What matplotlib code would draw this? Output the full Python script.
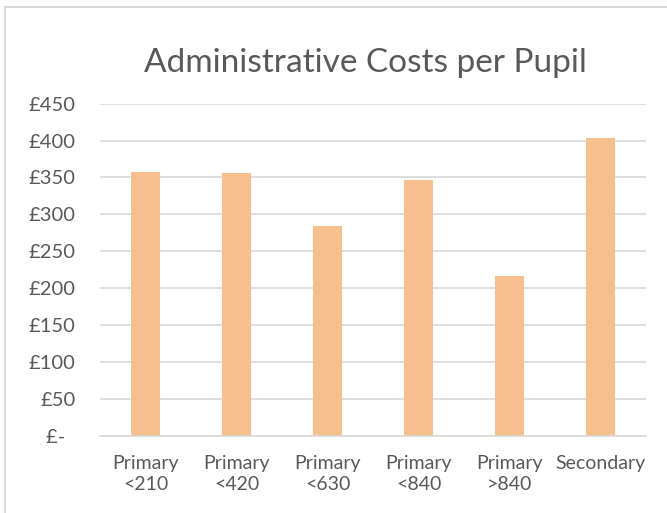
import matplotlib
matplotlib.use("Agg")
import matplotlib.pyplot as plt
from matplotlib.patches import Rectangle

categories = ["Primary\n<210", "Primary\n<420", "Primary\n<630",
              "Primary\n<840", "Primary\n>840", "Secondary"]
costs = [358, 356, 284, 346, 216, 403]
yticks = [0, 50, 100, 150, 200, 250, 300, 350, 400, 450]
ytick_labels = ["£-  ", "£50", "£100", "£150", "£200", "£250",
                "£300", "£350", "£400", "£450"]

text_grey = "#595959"
plt.rcParams["font.family"] = ["Lato", "DejaVu Sans"]

fig = plt.figure(figsize=(6.67, 5.13), dpi=100)
fig.patch.set_facecolor("white")

# chart frame, cut off at the right and bottom
fig.patches.append(Rectangle((4.5 / 667, -0.1), 1.2, 1.1 - 7.5 / 513,
                             transform=fig.transFigure, fill=False,
                             edgecolor="#D9D9D9", linewidth=1.5))

ax = fig.add_axes([100.3 / 667, 1 - 435.7 / 513, 545.7 / 667, 332 / 513])
x = range(len(categories))
ax.bar(x, costs, width=0.315, color="#F8BF8E", zorder=2)

ax.set_xlim(-0.5, len(categories) - 0.5)
ax.set_ylim(0, 450)
ax.set_yticks(yticks)
ax.set_yticklabels(ytick_labels)
ax.set_xticks(list(x))
ax.set_xticklabels(categories, linespacing=1.3)
ax.tick_params(axis="y", length=0, pad=18, labelsize=14.5, labelcolor=text_grey)
ax.tick_params(axis="x", length=0, pad=14, labelsize=14, labelcolor=text_grey)

ax.grid(axis="y", color="#D9D9D9", linewidth=1.2, zorder=0)
for side in ["top", "right", "left"]:
    ax.spines[side].set_visible(False)
ax.spines["bottom"].set_color("#D9D9D9")
ax.spines["bottom"].set_linewidth(1.2)

fig.text(365.5 / 667, 1 - 63 / 513, "Administrative Costs per Pupil",
         ha="center", va="center", fontsize=24, color=text_grey)

fig.savefig("out.png", dpi=100)
